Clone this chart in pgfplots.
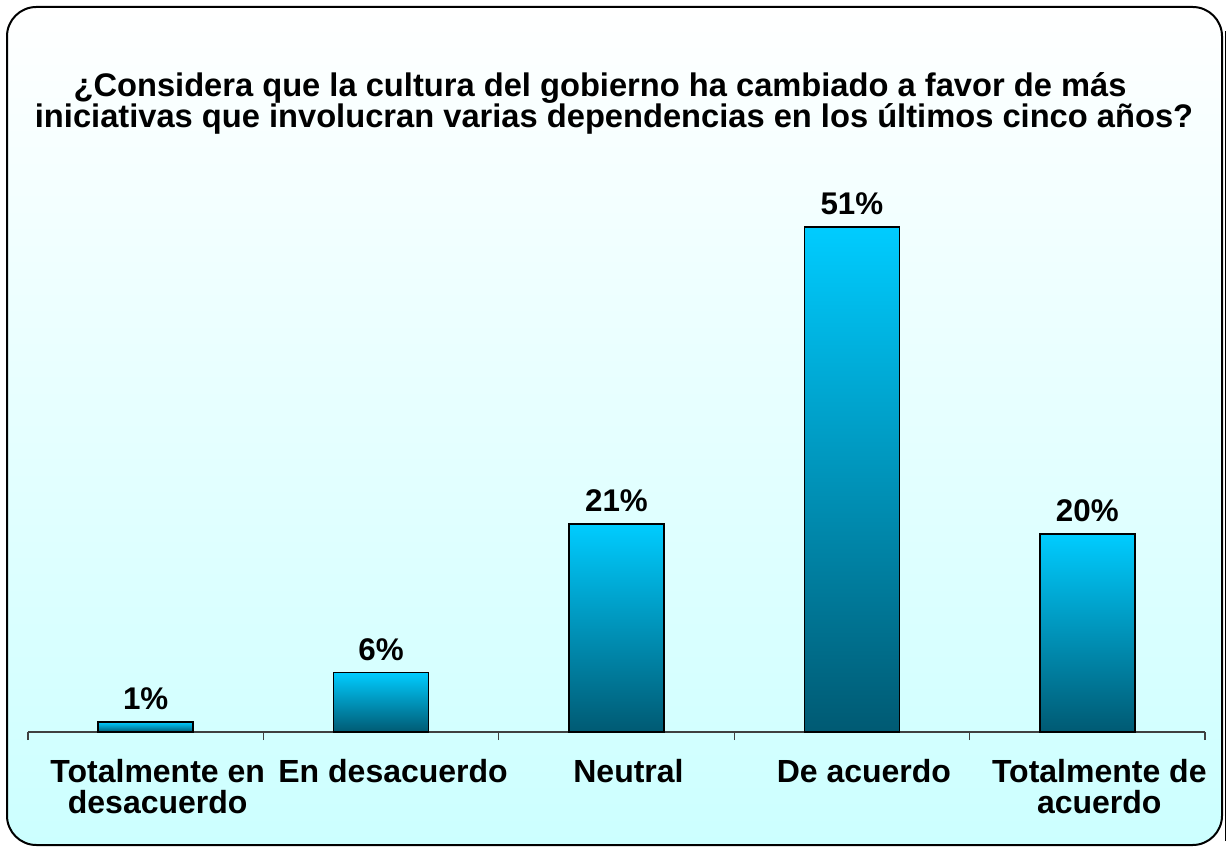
\documentclass[border=0pt]{standalone}
\usepackage{pgfplots}
\pgfplotsset{compat=1.18}
\usepackage{fontspec}
\setmainfont{Liberation Sans}
\definecolor{bartop}{HTML}{00CCFF}
\definecolor{barbot}{HTML}{005A73}
\definecolor{bgbot}{HTML}{CCFFFF}
\pgfplotsset{barsty/.style={draw=black, line width=1.2pt, top color=bartop, bottom color=barbot}}

\begin{document}
\begin{tikzpicture}[x=0.75pt,y=0.75pt]
% page size = reference pixels (y measured from bottom)
\useasboundingbox (0,0) rectangle (1227,846);
\shade[top color=white, bottom color=bgbot, rounded corners=22pt] (7,1) rectangle (1222,839);
\draw[line width=1.5pt, rounded corners=22pt] (7,1) rectangle (1222,839);
\draw[line width=1pt] (1225.5,5) -- (1225.5,815);

% title
\node[anchor=base, font=\fontsize{24.5}{25}\selectfont\bfseries] at (600,749)
  {¿Considera que la cultura del gobierno ha cambiado a favor de más};
\node[anchor=base, font=\fontsize{24.5}{25}\selectfont\bfseries] at (614,718)
  {iniciativas que involucran varias dependencias en los últimos cinco años?};

\begin{axis}[
    at={(21pt,85.5pt)}, anchor=south west,
    scale only axis,
    width=882.75pt, height=408.4pt,
    xmin=-0.5, xmax=4.5,
    ymin=0, ymax=55,
    axis x line*=bottom,
    axis y line=none,
    axis line style={draw=black!75, line width=0.8pt},
    xtick={0,1,2,3,4},
    xticklabels={{Totalmente en\\desacuerdo},{En desacuerdo},{Neutral},{De acuerdo},{Totalmente de\\acuerdo}},
    major tick length=0pt,
    minor xtick={-0.5,0.5,1.5,2.5,3.5,4.5},
    minor tick length=6pt,
    xtick align=outside,
    minor tick style={draw=black!75, line width=0.8pt},
    xticklabel style={font=\fontsize{24}{23.5}\selectfont\bfseries, align=center, anchor=north, yshift=-17pt, xshift=9pt},
    /pgf/number format/assume math mode=true,
    ybar,
    bar shift=0pt,
    bar width=71.25pt,
    nodes near coords={\pgfmathprintnumber{\pgfplotspointmeta}\%},
    every node near coord/.append style={font=\fontsize{23.5}{24}\selectfont\bfseries, text=black, yshift=5pt},
]
\addplot[barsty] coordinates {(0,1)};
\addplot[barsty] coordinates {(1,6)};
\addplot[barsty] coordinates {(2,21)};
\addplot[barsty] coordinates {(3,51)};
\addplot[barsty] coordinates {(4,20)};
\end{axis}
\end{tikzpicture}
\end{document}
